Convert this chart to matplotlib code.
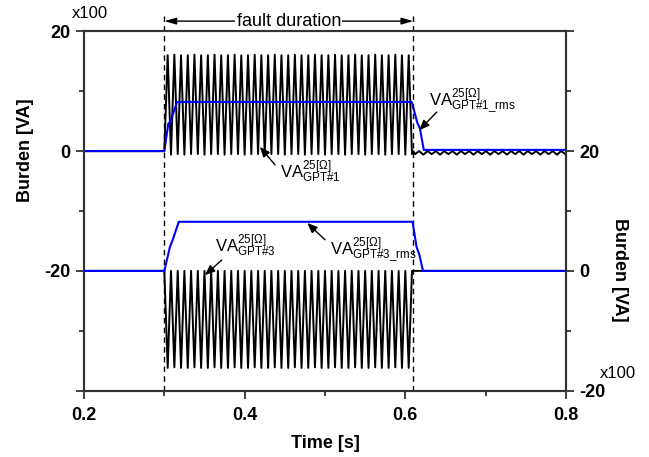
import matplotlib.pyplot as plt
from matplotlib.ticker import FixedLocator

plt.rcParams['font.family'] = ['Liberation Sans', 'DejaVu Sans']
plt.rcParams['mathtext.fontset'] = 'custom'
plt.rcParams['mathtext.rm'] = 'Liberation Sans'
plt.rcParams['mathtext.it'] = 'Liberation Sans:italic'

# fault instants [s]
fault_on = 0.30
fault_off = 0.61

# times of the peaks/troughs of the instantaneous burden during the fault [s]
wave_t = [0.3000, 0.3042, 0.3083, 0.3125, 0.3167, 0.3208, 0.3250, 0.3292, 0.3333, 0.3375,
          0.3417, 0.3458, 0.3500, 0.3542, 0.3583, 0.3625, 0.3667, 0.3708, 0.3750, 0.3792,
          0.3833, 0.3875, 0.3917, 0.3958, 0.4000, 0.4042, 0.4083, 0.4125, 0.4167, 0.4208,
          0.4250, 0.4292, 0.4333, 0.4375, 0.4417, 0.4458, 0.4500, 0.4542, 0.4583, 0.4625,
          0.4667, 0.4708, 0.4750, 0.4792, 0.4833, 0.4875, 0.4917, 0.4958, 0.5000, 0.5042,
          0.5083, 0.5125, 0.5167, 0.5208, 0.5250, 0.5292, 0.5333, 0.5375, 0.5417, 0.5458,
          0.5500, 0.5542, 0.5583, 0.5625, 0.5667, 0.5708, 0.5750, 0.5792, 0.5833, 0.5875,
          0.5917, 0.5958, 0.6000, 0.6042, 0.6083]

# VA GPT#1 (left axis, x100 VA): trough / peak pairs
gpt1_wave = [0.0, 16.0, -0.6, 16.1, -0.5, 16.0, -0.6, 16.0, -0.5, 16.1,
             -0.5, 16.0, -0.6, 16.0, -0.5, 16.1, -0.5, 16.0, -0.6, 16.0,
             -0.5, 16.1, -0.5, 16.0, -0.6, 16.0, -0.5, 16.1, -0.5, 16.0,
             -0.6, 16.0, -0.5, 16.1, -0.5, 16.0, -0.6, 16.0, -0.5, 16.1,
             -0.5, 16.0, -0.6, 16.0, -0.5, 16.1, -0.5, 16.0, -0.6, 16.0,
             -0.5, 16.1, -0.5, 16.0, -0.6, 16.0, -0.5, 16.1, -0.5, 16.0,
             -0.6, 16.0, -0.5, 16.1, -0.5, 16.0, -0.6, 16.0, -0.5, 16.1,
             -0.5, 16.0, -0.6, 16.0, -0.5]

# VA GPT#3 (right axis, x100 VA)
gpt3_wave = [0.0, -16.2, 0.0, -16.1, 0.0, -16.2, 0.0, -16.2, 0.0, -16.1,
             0.0, -16.2, 0.0, -16.2, 0.0, -16.1, 0.0, -16.2, 0.0, -16.2,
             0.0, -16.1, 0.0, -16.2, 0.0, -16.2, 0.0, -16.1, 0.0, -16.2,
             0.0, -16.2, 0.0, -16.1, 0.0, -16.2, 0.0, -16.2, 0.0, -16.1,
             0.0, -16.2, 0.0, -16.2, 0.0, -16.1, 0.0, -16.2, 0.0, -16.2,
             0.0, -16.1, 0.0, -16.2, 0.0, -16.2, 0.0, -16.1, 0.0, -16.2,
             0.0, -16.2, 0.0, -16.1, 0.0, -16.2, 0.0, -16.2, 0.0, -16.1,
             0.0, -16.2, 0.0, -16.2, 0.0]

# small ripple of GPT#1 after the fault is cleared
ripple_t = [0.6120, 0.6172, 0.6224, 0.6276, 0.6328, 0.6380, 0.6432, 0.6484, 0.6536, 0.6588,
            0.6640, 0.6692, 0.6744, 0.6796, 0.6848, 0.6900, 0.6952, 0.7004, 0.7056, 0.7108,
            0.7160, 0.7212, 0.7264, 0.7316, 0.7368, 0.7420, 0.7472, 0.7524, 0.7576, 0.7628,
            0.7680, 0.7732, 0.7784, 0.7836, 0.7888, 0.7940, 0.7992]
ripple_v = [-0.5, 0.0, -0.6, 0.0, -0.5, 0.0, -0.6, 0.0, -0.5, 0.0,
            -0.6, 0.0, -0.5, 0.0, -0.6, 0.0, -0.5, 0.0, -0.6, 0.0,
            -0.5, 0.0, -0.6, 0.0, -0.5, 0.0, -0.6, 0.0, -0.5, 0.0,
            -0.6, 0.0, -0.5, 0.0, -0.6, 0.0, -0.5]

# rms values
rms1_t = [0.2, 0.300, 0.305, 0.307, 0.316, 0.608, 0.615, 0.618, 0.623, 0.8]
rms1_v = [0.0, 0.0, 4.6, 4.8, 8.2, 8.2, 4.7, 3.9, 0.2, 0.2]
rms3_t = [0.2, 0.300, 0.307, 0.310, 0.318, 0.609, 0.614, 0.6175, 0.622, 0.8]
rms3_v = [0.0, 0.0, 4.0, 5.0, 8.2, 8.2, 4.0, 2.7, 0.0, 0.0]

x_major = [0.2, 0.4, 0.6, 0.8]
x_minor = [0.3, 0.5, 0.7]

fig = plt.figure(figsize=(6.49, 4.57), dpi=100)
ax = fig.add_axes([0.1294, 0.1451, 0.7427, 0.7864])
ax2 = ax.twinx()

# GPT#1 on left axis
t1 = [0.2] + wave_t + [fault_off] + ripple_t + [0.8]
v1 = [0.0] + gpt1_wave + [0.0] + ripple_v + [0.0]
ax.plot(t1, v1, color='black', lw=1.4, zorder=2)
ax.plot(rms1_t, rms1_v, color='#0000ff', lw=1.5, zorder=3)

# GPT#3 on right axis
t3 = [0.2] + wave_t + [fault_off, 0.8]
v3 = [0.0] + gpt3_wave + [0.0, 0.0]
ax2.plot(t3, v3, color='black', lw=1.4, zorder=2)
ax2.plot(rms3_t, rms3_v, color='#0000ff', lw=1.5, zorder=3)

ax.set_xlim(0.2, 0.8)
ax.set_ylim(-40, 20)
ax2.set_ylim(-20, 40)

# fault duration markers
for xf in (fault_on, fault_off):
    ax.plot([xf, xf], [-40, 23.2], color='black', lw=1, ls=(0, (4, 3)),
            clip_on=False, zorder=4)
ax.annotate('', xy=(fault_on, 21.7), xytext=(fault_off, 21.7),
            arrowprops=dict(arrowstyle='<|-|>,head_length=0.7,head_width=0.2',
                            color='black', lw=1, shrinkA=0, shrinkB=0),
            annotation_clip=False)
ax.text((fault_on + fault_off) / 2, 21.7, 'fault duration', fontsize=13,
        ha='center', va='center', clip_on=False,
        bbox=dict(facecolor='white', edgecolor='none', pad=1))

# labels with arrows
arrow = dict(arrowstyle='-|>,head_length=0.6,head_width=0.25', color='black',
             lw=1, shrinkA=0, shrinkB=0)
ax.annotate('', xy=(0.6174, 3.5), xytext=(0.639, 6.5), arrowprops=arrow)
ax.text(0.630, 7.6, r'VA$^{\mathrm{25[\Omega]}}_{\mathrm{GPT\#1\_rms}}$', fontsize=12)
ax.annotate('', xy=(0.419, 0.7), xytext=(0.4378, -2.3), arrowprops=arrow)
ax.text(0.444, -4.4, r'VA$^{\mathrm{25[\Omega]}}_{\mathrm{GPT\#1}}$', fontsize=12)
ax.annotate('', xy=(0.478, -12.0), xytext=(0.500, -14.8), arrowprops=arrow)
ax.text(0.506, -17.3, r'VA$^{\mathrm{25[\Omega]}}_{\mathrm{GPT\#3\_rms}}$', fontsize=12)
ax.annotate('', xy=(0.3506, -20.7), xytext=(0.3714, -18.2), arrowprops=arrow)
ax.text(0.363, -16.8, r'VA$^{\mathrm{25[\Omega]}}_{\mathrm{GPT\#3}}$', fontsize=12)

# axes styling
for a in (ax, ax2):
    for s in a.spines.values():
        s.set_linewidth(1.5)
        s.set_color('#333333')

ax.xaxis.set_major_locator(FixedLocator(x_major))
ax.xaxis.set_minor_locator(FixedLocator(x_minor))
ax.set_xticklabels(['0.2', '0.4', '0.6', '0.8'])
ax.yaxis.set_major_locator(FixedLocator([-40, -20, 0, 20]))
ax.yaxis.set_minor_locator(FixedLocator([-30, -10, 10]))
ax.set_yticklabels(['', '-20', '0', '20'])
ax2.yaxis.set_major_locator(FixedLocator([-20, 0, 20, 40]))
ax2.yaxis.set_minor_locator(FixedLocator([-10, 10, 30]))
ax2.set_yticklabels(['-20', '0', '20', ''])

ax.tick_params(axis='both', which='major', direction='out', length=6, width=1.3,
               labelsize=13, color='#333333')
ax.tick_params(axis='both', which='minor', direction='out', length=3.5, width=1.3,
               color='#333333')
ax.tick_params(axis='x', pad=6)
ax2.tick_params(axis='y', which='major', direction='out', length=6, width=1.3,
                labelsize=13, color='#333333')
ax2.tick_params(axis='y', which='minor', direction='out', length=3.5, width=1.3,
                color='#333333')
for lab in ax.get_xticklabels() + ax.get_yticklabels() + ax2.get_yticklabels():
    lab.set_fontweight('bold')

ax.set_xlabel('Time [s]', fontsize=13, fontweight='bold', labelpad=8)
ax.set_ylabel('Burden [VA]', fontsize=13, fontweight='bold')
ax.yaxis.set_label_coords(-0.103, 0.67)
ax2.set_ylabel('Burden [VA]', fontsize=13, fontweight='bold', rotation=-90,
               va='center')
ax2.yaxis.set_label_coords(1.11, 0.336)

fig.text(72 / 649, 1 - 14 / 457, 'x100', fontsize=12, va='center')
fig.text(600 / 649, 1 - 374 / 457, 'x100', fontsize=12, va='center')

plt.savefig('out.png', dpi=100)
